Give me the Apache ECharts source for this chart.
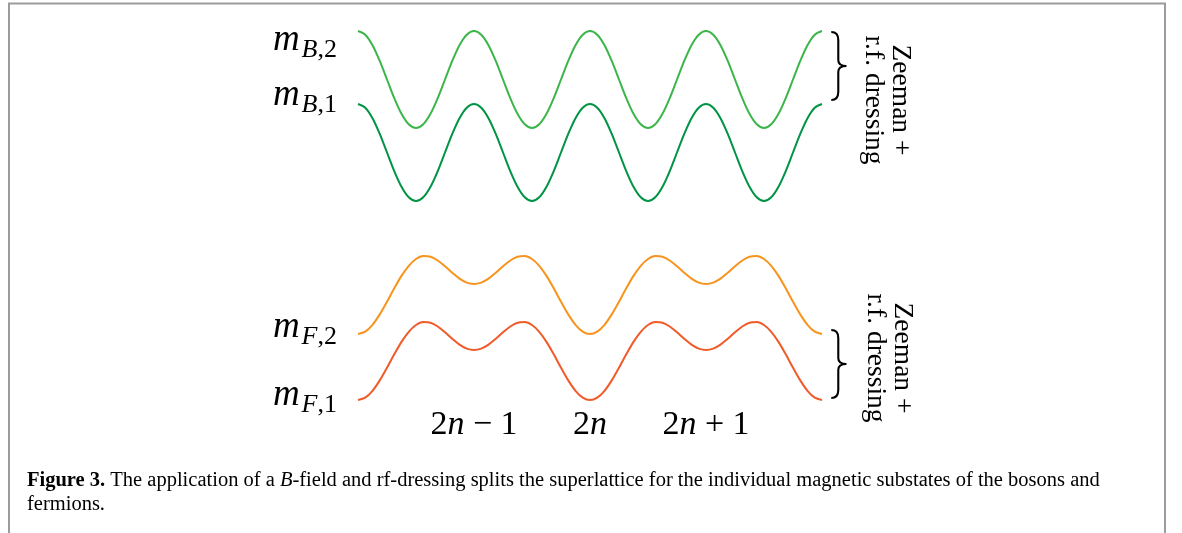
<!DOCTYPE html>
<html><head><meta charset="utf-8">
<script src="https://cdn.jsdelivr.net/npm/echarts@6/dist/echarts.min.js"></script>
<style>html,body{margin:0;padding:0;background:#fff}#c{width:1182px;height:533px}</style>
</head><body><div id="c"></div>
<script>
// sample positions along the lattice (in units of the short lattice period)
const samplePositions = Array.from({length: 65}, (_, i) => i / 16);

// energies (arbitrary units, up = higher)
const mB2 = [369.0,365.3,354.8,339.1,320.5,301.9,286.2,275.7,272.0,275.7,286.2,301.9,320.5,339.1,354.8,365.3,
             369.0,365.3,354.8,339.1,320.5,301.9,286.2,275.7,272.0,275.7,286.2,301.9,320.5,339.1,354.8,365.3,
             369.0,365.3,354.8,339.1,320.5,301.9,286.2,275.7,272.0,275.7,286.2,301.9,320.5,339.1,354.8,365.3,
             369.0,365.3,354.8,339.1,320.5,301.9,286.2,275.7,272.0,275.7,286.2,301.9,320.5,339.1,354.8,365.3,369.0];
const mB1 = [296.0,292.3,281.8,266.1,247.5,228.9,213.2,202.7,199.0,202.7,213.2,228.9,247.5,266.1,281.8,292.3,
             296.0,292.3,281.8,266.1,247.5,228.9,213.2,202.7,199.0,202.7,213.2,228.9,247.5,266.1,281.8,292.3,
             296.0,292.3,281.8,266.1,247.5,228.9,213.2,202.7,199.0,202.7,213.2,228.9,247.5,266.1,281.8,292.3,
             296.0,292.3,281.8,266.1,247.5,228.9,213.2,202.7,199.0,202.7,213.2,228.9,247.5,266.1,281.8,292.3,296.0];
const mF2 = [66.0,68.4,75.2,85.6,98.3,111.7,124.1,134.2,141.0,144.0,143.3,139.5,133.7,127.2,121.4,117.4,
             116.0,117.4,121.4,127.2,133.7,139.5,143.3,144.0,141.0,134.2,124.1,111.7,98.3,85.6,75.2,68.4,
             66.0,68.4,75.2,85.6,98.3,111.7,124.1,134.2,141.0,144.0,143.3,139.5,133.7,127.2,121.4,117.4,
             116.0,117.4,121.4,127.2,133.7,139.5,143.3,144.0,141.0,134.2,124.1,111.7,98.3,85.6,75.2,68.4,66.0];
const mF1 = [0.0,2.4,9.2,19.6,32.3,45.7,58.1,68.2,75.0,78.0,77.3,73.5,67.7,61.2,55.4,51.4,
             50.0,51.4,55.4,61.2,67.7,73.5,77.3,78.0,75.0,68.2,58.1,45.7,32.3,19.6,9.2,2.4,
             0.0,2.4,9.2,19.6,32.3,45.7,58.1,68.2,75.0,78.0,77.3,73.5,67.7,61.2,55.4,51.4,
             50.0,51.4,55.4,61.2,67.7,73.5,77.3,78.0,75.0,68.2,58.1,45.7,32.3,19.6,9.2,2.4,0.0];

const seriesValues = [mB2, mB1, mF2, mF1];
const seriesLetters = ['B', 'B', 'F', 'F'];
const seriesIndices = ['2', '1', '2', '1'];
const seriesColors = ['#3cb54a', '#009444', '#f7941d', '#f15a29'];
const labelOffsets = [[0, 9], [0, -9], [0, -7], [0, -5]];

const tickLabels = ['', '2{i|n} − 1', '2{i|n}', '2{i|n} + 1', ''];

// brace extents (data units) and annotation text
const braceRanges = [[368, 300], [70, 2]];
const braceX = 4.08;
const annotCenters = [[4.555, 300], [4.575, 42]];
const annotLines = ['Zeeman +', 'r.f. dressing'];

const caption = '{b|Figure 3.} The application of a {i|B}-field and rf-dressing splits the superlattice for the individual magnetic substates of the bosons and\nfermions.';

const SERIF = 'Liberation Serif';
const labelRich = {
  m: {fontFamily: SERIF, fontStyle: 'italic', fontSize: 37, color: '#000'},
  s: {fontFamily: SERIF, fontStyle: 'italic', fontSize: 26, color: '#000', padding: [21, 0, 0, 2]},
  n: {fontFamily: SERIF, fontStyle: 'normal', fontSize: 26, color: '#000', padding: [21, 0, 0, 0]}
};

const chart = echarts.init(document.getElementById('c'), null, {renderer: 'canvas'});

const series = seriesValues.map((vals, si) => ({
  type: 'line',
  smooth: 0.3,
  symbol: 'circle',
  symbolSize: 0,
  showSymbol: true,
  silent: true,
  animation: false,
  lineStyle: {color: seriesColors[si], width: 2},
  itemStyle: {color: seriesColors[si]},
  label: {show: false},
  emphasis: {disabled: true},
  data: vals.map((v, i) => {
    const item = {value: [samplePositions[i], v]};
    if (i === 0) {
      item.label = {
        show: true, position: 'left', distance: 21, offset: labelOffsets[si],
        formatter: '{m|m}{s|' + seriesLetters[si] + '}{n|,' + seriesIndices[si] + '}',
        rich: labelRich
      };
    }
    return item;
  })
}));

chart.setOption({
  animation: false,
  backgroundColor: '#fff',
  grid: {left: 358, right: 360, top: 30, bottom: 133},
  xAxis: {
    type: 'value', min: 0, max: 4, interval: 1,
    axisLine: {show: false}, axisTick: {show: false}, splitLine: {show: false},
    axisLabel: {
      show: true, margin: 8, color: '#000', fontFamily: SERIF, fontSize: 34,
      formatter: v => tickLabels[Math.round(v)] || '',
      rich: {i: {fontFamily: SERIF, fontStyle: 'italic', fontSize: 34, color: '#000'}}
    }
  },
  yAxis: {type: 'value', min: 0, max: 370, show: false},
  series: series
});

function braceGroup(x, y, h) {
  const m = h / 2;
  const st = {fill: 'none', stroke: '#000', lineWidth: 2.1};
  const bz = (x1, y1, cpx1, cpy1, cpx2, cpy2, x2, y2) => ({
    type: 'bezierCurve', silent: true,
    shape: {x1, y1, cpx1, cpy1, cpx2, cpy2, x2, y2}, style: st
  });
  const ln = (x1, y1, x2, y2) => ({type: 'line', silent: true, shape: {x1, y1, x2, y2}, style: st});
  return {
    type: 'group', x: x, y: y, silent: true,
    children: [
      bz(0, 0, 5, 0, 7, 3, 7, 8),
      ln(7, 8, 7, m - 6),
      bz(7, m - 6, 7, m - 2, 10, m, 15, m),
      bz(15, m, 10, m, 7, m + 2, 7, m + 6),
      ln(7, m + 6, 7, h - 8),
      bz(7, h - 8, 7, h - 3, 5, h, 0, h)
    ]
  };
}

const graphics = [{
  type: 'rect', silent: true,
  shape: {x: 9, y: 3.5, width: 1156, height: 600},
  style: {fill: 'none', stroke: '#9b9b9b', lineWidth: 2}
}];

braceRanges.forEach(r => {
  const top = chart.convertToPixel({gridIndex: 0}, [braceX, r[0]]);
  const bot = chart.convertToPixel({gridIndex: 0}, [braceX, r[1]]);
  graphics.push(braceGroup(top[0], top[1], bot[1] - top[1]));
});

annotCenters.forEach(c => {
  const p = chart.convertToPixel({gridIndex: 0}, c);
  graphics.push({
    type: 'text', silent: true, x: p[0], y: p[1], rotation: -Math.PI / 2,
    style: {
      text: annotLines.join('\n'), fontFamily: SERIF, fontSize: 27.5, lineHeight: 27,
      fill: '#000', align: 'center', verticalAlign: 'middle'
    }
  });
});

graphics.push({
  type: 'text', silent: true, x: 27, y: 493,
  style: {
    text: caption, fontFamily: SERIF, fontSize: 20.5, lineHeight: 24, fill: '#000',
    align: 'left', verticalAlign: 'middle',
    rich: {
      b: {fontFamily: SERIF, fontWeight: 'bold', fontSize: 20.5, fill: '#000'},
      i: {fontFamily: SERIF, fontStyle: 'italic', fontSize: 20.5, fill: '#000'}
    }
  }
});

chart.setOption({graphic: graphics});
</script></body></html>
